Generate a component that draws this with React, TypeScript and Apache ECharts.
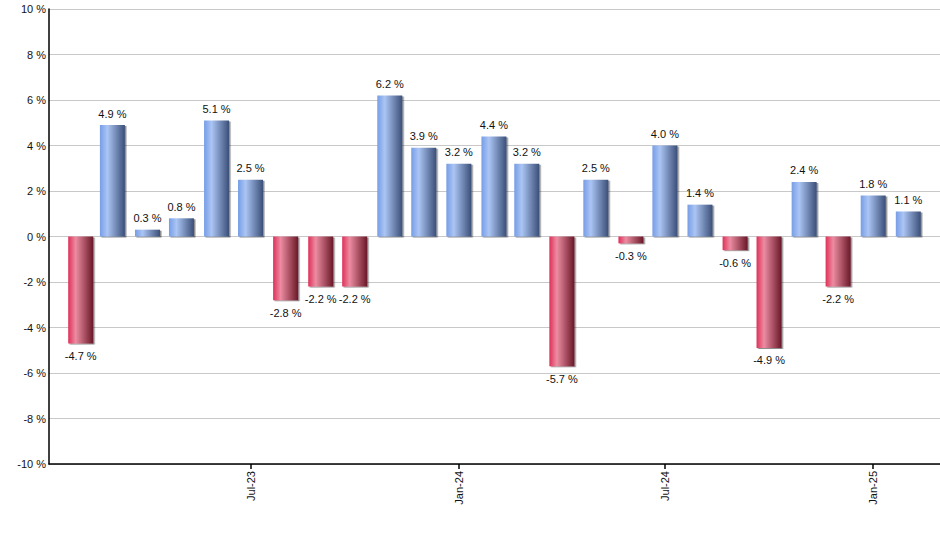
import React, { useEffect, useRef } from "react";
import * as echarts from "echarts";

const months = [
  "2023-02", "2023-03", "2023-04", "2023-05", "2023-06", "2023-07", "2023-08", "2023-09",
  "2023-10", "2023-11", "2023-12", "2024-01", "2024-02", "2024-03", "2024-04", "2024-05",
  "2024-06", "2024-07", "2024-08", "2024-09", "2024-10", "2024-11", "2024-12", "2025-01",
  "2025-02",
];
const values = [
  -4.7, 4.9, 0.3, 0.8, 5.1, 2.5, -2.8, -2.2, -2.2, 6.2, 3.9, 3.2, 4.4, 3.2, -5.7, 2.5,
  -0.3, 4.0, 1.4, -0.6, -4.9, 2.4, -2.2, 1.8, 1.1,
];
const tickMonths = ["2023-07", "2024-01", "2024-07", "2025-01"];
const axisStart = "2023-01-04";
const axisEnd = "2025-03-01";
const yTicks = { min: -10, max: 10, step: 2 };

const MON = ["Jan", "Feb", "Mar", "Apr", "May", "Jun", "Jul", "Aug", "Sep", "Oct", "Nov", "Dec"];

function toTime(s: string): number {
  const p = s.split("-").map(Number);
  return Date.UTC(p[0], p[1] - 1, p[2] || 1);
}

export default function App() {
  const ref = useRef<HTMLDivElement>(null);
  useEffect(() => {
    document.body.style.margin = "0";
    const chart = echarts.init(ref.current!, undefined, { renderer: "svg" });
    const blue = new echarts.graphic.LinearGradient(0, 0, 1, 0, [
      { offset: 0, color: "#769de6" },
      { offset: 0.3, color: "#abc5f4" },
      { offset: 1, color: "#3b4f78" },
    ]);
    const red = new echarts.graphic.LinearGradient(0, 0, 1, 0, [
      { offset: 0, color: "#df3058" },
      { offset: 0.3, color: "#ec8ca2" },
      { offset: 1, color: "#6a1828" },
    ]);
    const data = months.map((m, i) => {
      const v = values[i];
      return {
        value: [toTime(m), v],
        itemStyle: { color: v >= 0 ? blue : red },
        label: { position: v >= 0 ? "top" : "bottom", distance: v >= 0 ? 6 : 7 },
      };
    });
    const font = "'Liberation Sans', Arial, sans-serif";
    const tickVals = tickMonths.map(toTime);
    chart.setOption({
      animation: false,
      backgroundColor: "#ffffff",
      grid: { left: 49, top: 9, right: 0, bottom: 86, containLabel: false },
      xAxis: {
        type: "value",
        min: toTime(axisStart),
        max: toTime(axisEnd),
        axisLine: { onZero: false, lineStyle: { color: "#000", width: 1.5 } },
        axisTick: {
          show: true,
          length: 5,
          lineStyle: { color: "#000", width: 1.5 },
          customValues: tickVals,
        },
        axisLabel: {
          rotate: 90,
          margin: 7,
          fontSize: 11,
          fontFamily: font,
          color: "#111",
          customValues: tickVals,
          formatter: (val: number) => {
            const d = new Date(val);
            return MON[d.getUTCMonth()] + "-" + String(d.getUTCFullYear()).slice(2);
          },
        },
        splitLine: { show: false },
      },
      yAxis: {
        type: "value",
        min: yTicks.min,
        max: yTicks.max,
        interval: yTicks.step,
        axisLine: { show: true, lineStyle: { color: "#000", width: 1.5 } },
        axisTick: { show: false },
        axisLabel: {
          margin: 3,
          fontSize: 11,
          fontFamily: font,
          color: "#111",
          formatter: "{value} %",
        },
        splitLine: { show: true, lineStyle: { color: "#c8c8c8", width: 1 } },
      },
      series: [
        {
          type: "bar",
          data,
          barWidth: 25,
          itemStyle: {
            shadowColor: "rgba(0,0,0,0.45)",
            shadowOffsetX: 1.5,
            shadowOffsetY: 1,
            shadowBlur: 1,
          },
          label: {
            show: true,
            fontSize: 11,
            fontFamily: font,
            color: "#111",
            formatter: (p: any) => p.value[1].toFixed(1) + " %",
          },
        },
      ],
    });
    return () => chart.dispose();
  }, []);
  return <div ref={ref} style={{ width: 940, height: 550 }} />;
}
